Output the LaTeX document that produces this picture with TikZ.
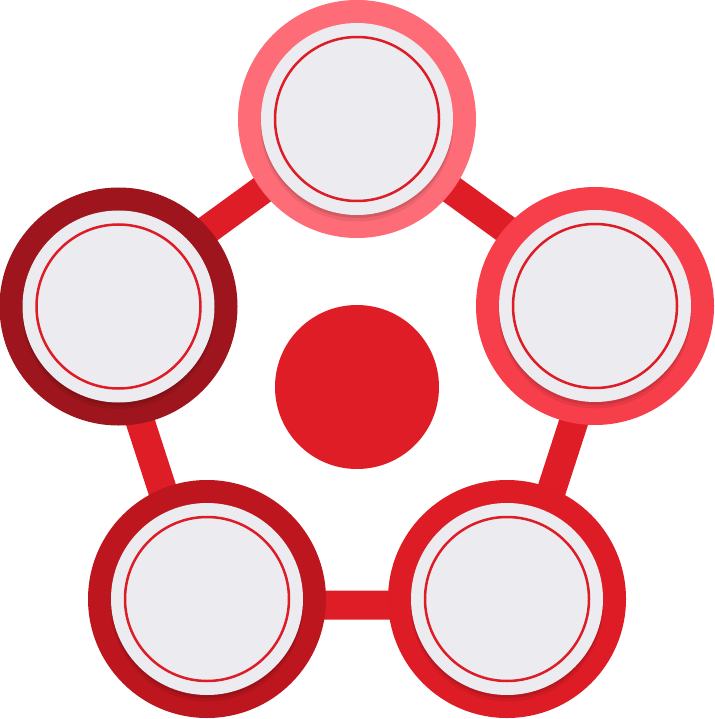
\documentclass[tikz,border=0pt]{standalone}
\usetikzlibrary{calc}
\definecolor{cTop}{HTML}{FE6C77}
\definecolor{cRight}{HTML}{F73F4B}
\definecolor{cLeft}{HTML}{9E151D}
\definecolor{cBL}{HTML}{BD161F}
\definecolor{cBR}{HTML}{DE1C25}
\definecolor{cLink}{HTML}{DF1D26}
\definecolor{cDisk}{HTML}{ECEBF0}
\definecolor{cLine}{HTML}{DD1C25}
\tikzset{
  ring/.style={circle, minimum size=238pt, inner sep=0pt, fill=#1},
  disk/.style={circle, minimum size=192pt, inner sep=0pt, fill=cDisk},
  shade1/.style={circle, minimum size=193pt, inner sep=0pt, fill=black, fill opacity=0.07},
  shade2/.style={circle, minimum size=192pt, inner sep=0pt, fill=black, fill opacity=0.10},
  innerline/.style={circle, minimum size=164pt, inner sep=0pt, draw=cLine, line width=2.5pt},
  link/.style={draw=cLink, line width=29pt},
  hub/.style={circle, minimum size=164pt, inner sep=0pt, fill=cLink}
}
\newcommand{\petal}[3]{%
  \node[ring=#3] (#1) at (#2) {};
  \node[shade1] at ($(#2)+(0,6)$) {};
  \node[shade2] at ($(#2)+(0,3)$) {};
  \node[disk] (#1d) at (#2) {};
  \node[innerline] (#1i) at (#2) {};
}
\begin{document}
\begin{tikzpicture}[x=1pt,y=-1pt]
\useasboundingbox (0,0) rectangle (714,719);
% pentagon vertices for connectors
\coordinate (v1) at (357,121);
\coordinate (v2) at (611.4,305.8);
\coordinate (v3) at (514.2,605);
\coordinate (v4) at (199.8,605);
\coordinate (v5) at (102.6,305.8);
\draw[link] (v1) -- (v2) -- (v3) -- (v4) -- (v5) -- cycle;
\node[hub] (center) at (357,387) {};
\petal{top}{357,119}{cTop}
\petal{right}{595,306}{cRight}
\petal{left}{118.5,306.5}{cLeft}
\petal{bl}{207,599}{cBL}
\petal{br}{507,599}{cBR}
\end{tikzpicture}
\end{document}
